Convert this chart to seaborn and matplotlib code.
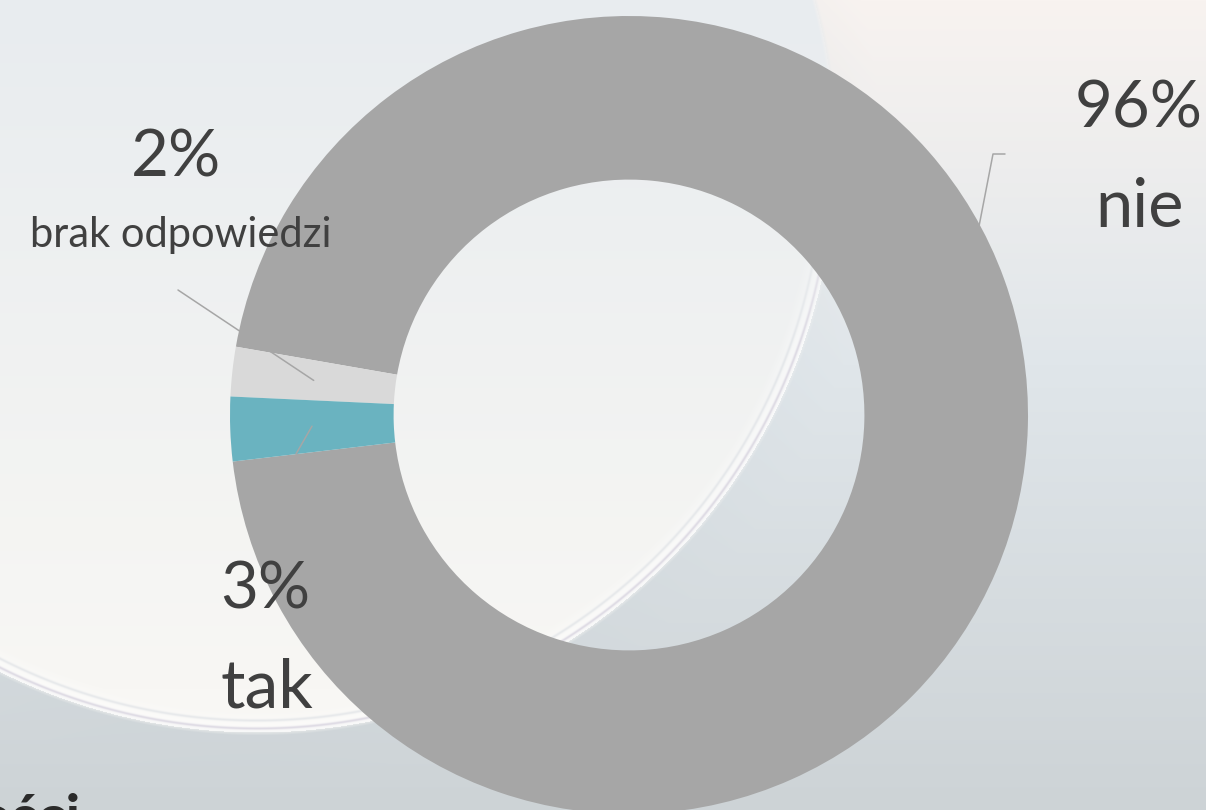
import numpy as np
import matplotlib
matplotlib.use("Agg")
import matplotlib.pyplot as plt
import seaborn as sns

# -----------------------------
# DATA
# -----------------------------
categories = ["nie", "brak odpowiedzi", "tak"]
shares = [95.4, 2.0, 2.6]             # slice sizes
pct_labels = ["96%", "2%", "3%"]      # labels as printed on the slide
colors = ["#a6a6a6", "#d9d9d9", "#6ab3c0"]

# -----------------------------
# STYLE
# -----------------------------
sns.set_theme(style="white")
plt.rcParams["font.family"] = ["Lato", "DejaVu Sans"]
TXT = "#404040"
W, H = 1206, 810
fig = plt.figure(figsize=(W / 100, H / 100), dpi=100)


def hexrgb(h):
    h = h.lstrip("#")
    return np.array([int(h[i:i + 2], 16) / 255 for i in (0, 2, 4)])


# -----------------------------
# BACKGROUND (soft glass plate look)
# -----------------------------
yy, xx = np.mgrid[0:H, 0:W].astype(float)
cx, cy, R = 257, 154, 578
d = np.hypot(xx - cx, yy - cy)

t = (yy / H)[..., None]
out_top, out_mid, out_bot = hexrgb("#f8f3f0"), hexrgb("#e0e6ea"), hexrgb("#cdd3d6")
outside = np.where(t < 0.45,
                   out_top + (out_mid - out_top) * (t / 0.45),
                   out_mid + (out_bot - out_mid) * ((t - 0.45) / 0.55))
in_top, in_bot = hexrgb("#e8ecef"), hexrgb("#f8f7f4")
inside = in_top + (in_bot - in_top) * np.clip(t / 0.85, 0, 1)

# soft transition across the plate edge
mix = np.clip((d - R) / 6 + 0.5, 0, 1)[..., None]
img = inside * (1 - mix) + outside * mix

# rim details fade out towards the top of the slide
fade = np.clip((yy - 120) / 220, 0, 1)

# darker glass edge just outside the plate
band = np.clip(1 - (d - R) / 45, 0, 1) * (d >= R)
img = img * (1 - 0.07 * band[..., None]) + hexrgb("#c4d0d8") * 0.07 * band[..., None]
# bright rim just inside
rim = np.clip(1 - (R - d) / 22, 0, 1) * (d < R) * fade
img = img + (1 - img) * 0.7 * rim[..., None]
# thin rim lines
for off, col, a in [(4, "#d6d2de", 0.75), (12, "#d9dde2", 0.55)]:
    ln = np.exp(-((d - (R - off)) ** 2) / 2.0) * fade
    img = img * (1 - a * ln[..., None]) + hexrgb(col) * a * ln[..., None]

bg = fig.add_axes([0, 0, 1, 1], zorder=0)
bg.imshow(np.clip(img, 0, 1), aspect="auto", extent=(0, W, H, 0))
bg.set_axis_off()

# -----------------------------
# DONUT
# -----------------------------
pcx, pcy, prad = 629, 415, 399
ring = 0.41
start = 186.7
ax = fig.add_axes([(pcx - prad) / W, (H - pcy - prad) / H, 2 * prad / W, 2 * prad / H], zorder=1)
ax.patch.set_alpha(0)
ax.pie(shares, colors=colors, startangle=start, counterclock=True, radius=1,
       wedgeprops=dict(width=ring, edgecolor="none"))
ax.set_xlim(-1, 1)
ax.set_ylim(-1, 1)
ax.set_axis_off()


def to_pie(px, py):
    return (px - pcx) / prad, (pcy - py) / prad


# wedge mid angles for leader lines
edges = start + 360 * np.cumsum([0] + shares) / sum(shares)
mids = np.deg2rad((edges[:-1] + edges[1:]) / 2)
r_mid = 1 - ring / 2

lead = "#a6a6a6"
# nie
p0 = to_pie(1005, 154)
p1 = to_pie(993, 154)
p2 = to_pie(975, 247)
ax.plot([p0[0], p1[0], p2[0]], [p0[1], p1[1], p2[1]], color=lead, lw=1.1, clip_on=False, zorder=5)
# brak odpowiedzi, tak
for i, anchor in [(1, (178, 290)), (2, (296, 454))]:
    a = to_pie(*anchor)
    ax.plot([a[0], r_mid * np.cos(mids[i])], [a[1], r_mid * np.sin(mids[i])],
            color=lead, lw=1.1, clip_on=False, zorder=5)

# -----------------------------
# LABELS
# -----------------------------
def ftext(px, py, s, color=TXT, **kw):
    fig.text(px / W, 1 - py / H, s, color=color, zorder=10, **kw)


big = 47
ftext(1139, 109, pct_labels[0], fontsize=big, ha="center", va="center")
ftext(1140, 227, categories[0], fontsize=big + 1, ha="center", va="baseline")
ftext(176, 158, pct_labels[1], fontsize=big, ha="center", va="center")
ftext(181, 247, categories[1], fontsize=30, ha="center", va="baseline")
ftext(220, 590, pct_labels[2], fontsize=big, ha="left", va="center")
ftext(220, 707, categories[2], fontsize=big + 2, ha="left", va="baseline")

# cut-off heading fragment at the bottom edge of the slide
ftext(-22, 836, "ości", color="#2b2b2b", fontsize=42, fontweight="bold", ha="left", va="baseline")

fig.savefig("out.png", dpi=100)
